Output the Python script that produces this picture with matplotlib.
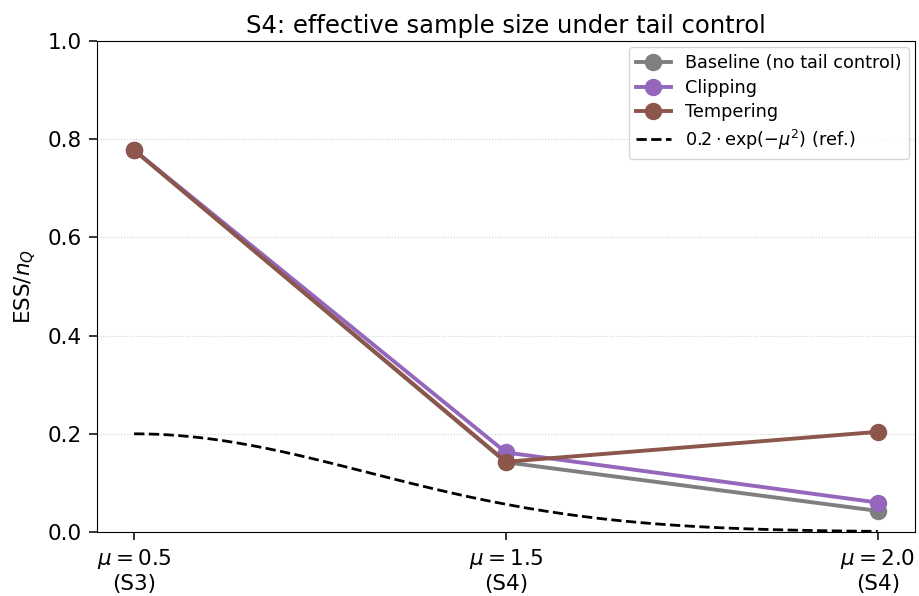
import numpy as np
import matplotlib.pyplot as plt

# Settings on the x axis (categorical positions)
tick_labels = [r"$\mu=0.5$" + "\n(S3)", r"$\mu=1.5$" + "\n(S4)", r"$\mu=2.0$" + "\n(S4)"]

# ESS / n_Q
baseline = [0.778, 0.142, 0.043]
clipping = [0.778, 0.162, 0.060]
tempering = [0.778, 0.143, 0.204]

# Reference curve 0.2 * exp(-mu^2), drawn across the categorical axis
ref_x = np.linspace(0, 2, 200)
ref_mu = np.linspace(0, 2.25, 200)
ref_y = 0.2 * np.exp(-ref_mu ** 2)

fig, ax = plt.subplots(figsize=(9.19, 5.96), dpi=100)
fig.subplots_adjust(left=0.1055, right=0.9956, top=0.931, bottom=0.1074)

x = np.arange(len(tick_labels))
ax.plot(x, baseline, marker="o", color="#7f7f7f", lw=2.8, ms=11.5, label="Baseline (no tail control)")
ax.plot(x, clipping, marker="o", color="#9467bd", lw=2.8, ms=11.5, label="Clipping")
ax.plot(x, tempering, marker="o", color="#8c564b", lw=2.8, ms=11.5, label="Tempering")
ax.plot(ref_x, ref_y, "--", color="black", lw=2, label=r"$0.2\cdot\exp(-\mu^2)$ (ref.)")

ax.set_xticks(x)
ax.set_xticklabels(tick_labels, fontsize=15.5)
ax.tick_params(axis="y", labelsize=15.5)
ax.tick_params(length=5.75, width=1.1, pad=5)
ax.set_ylim(0, 1.0)
ax.set_ylabel(r"ESS/$n_Q$", fontsize=15.5, labelpad=7)
ax.set_title("S4: effective sample size under tail control", fontsize=17.5)
ax.grid(axis="y", linestyle=":", color="#cccccc", alpha=0.9)
ax.legend(loc="upper right", fontsize=12.7, labelspacing=0.36, borderaxespad=0.35)

plt.savefig("out.png")
